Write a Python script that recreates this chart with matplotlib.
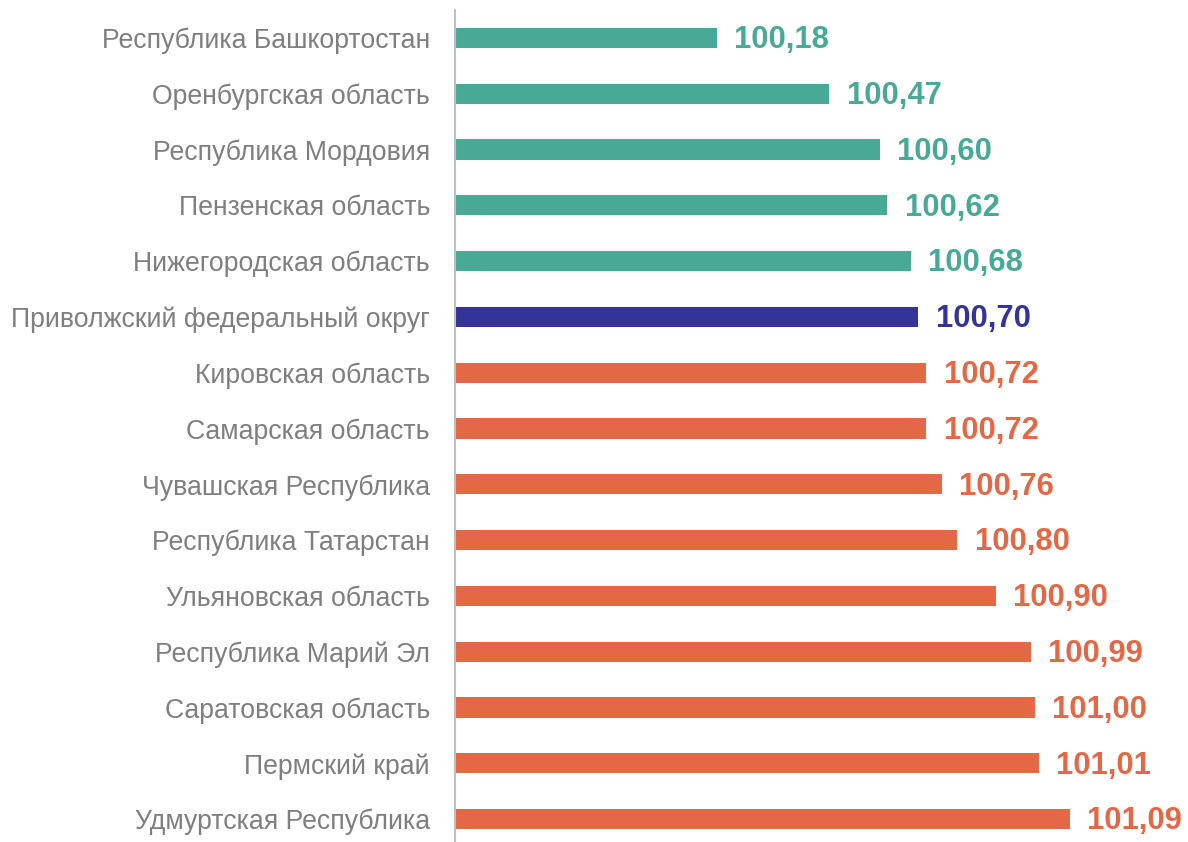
import matplotlib
matplotlib.use("Agg")
import matplotlib.pyplot as plt

plt.rcParams['font.family'] = ['Liberation Sans', 'DejaVu Sans']

# data, top to bottom
regions = [
    "Республика Башкортостан",
    "Оренбургская область",
    "Республика Мордовия",
    "Пензенская область",
    "Нижегородская область",
    "Приволжский федеральный округ",
    "Кировская область",
    "Самарская область",
    "Чувашская Республика",
    "Республика Татарстан",
    "Ульяновская область",
    "Республика Марий Эл",
    "Саратовская область",
    "Пермский край",
    "Удмуртская Республика",
]
values = [100.18, 100.47, 100.60, 100.62, 100.68, 100.70, 100.72, 100.72,
          100.76, 100.80, 100.90, 100.99, 101.00, 101.01, 101.09]
groups = ["low"] * 5 + ["district"] + ["high"] * 9

colors = {"low": "#48AA96", "district": "#343399", "high": "#E36846"}

fig = plt.figure(figsize=(11.88, 8.42), dpi=100)
ax = fig.add_axes([455 / 1188, -5 / 842, 733 / 1188, 837 / 842])

base = 99.505
ypos = list(range(len(regions)))
bar_colors = [colors[g] for g in groups]
ax.barh(ypos, [v - base for v in values], left=base, height=0.36, color=bar_colors)

for y, v, c in zip(ypos, values, bar_colors):
    ax.text(v + 0.045, y + 0.04, f"{v:.2f}".replace(".", ","), va="center", ha="left",
            fontsize=22.3, fontweight="bold", color=c)

ax.set_xlim(base, 101.395)
ax.set_ylim(len(regions) - 0.5, -0.5)
ax.set_yticks(ypos)
ax.set_yticklabels(regions, fontsize=19.2, color="#7F7F7F")
ax.tick_params(axis="y", length=0, pad=18)
ax.set_xticks([])
for s in ["top", "right", "bottom"]:
    ax.spines[s].set_visible(False)
ax.spines["left"].set_color("#BFBFBF")
ax.spines["left"].set_linewidth(1.5)

fig.savefig("out.png", dpi=100)
